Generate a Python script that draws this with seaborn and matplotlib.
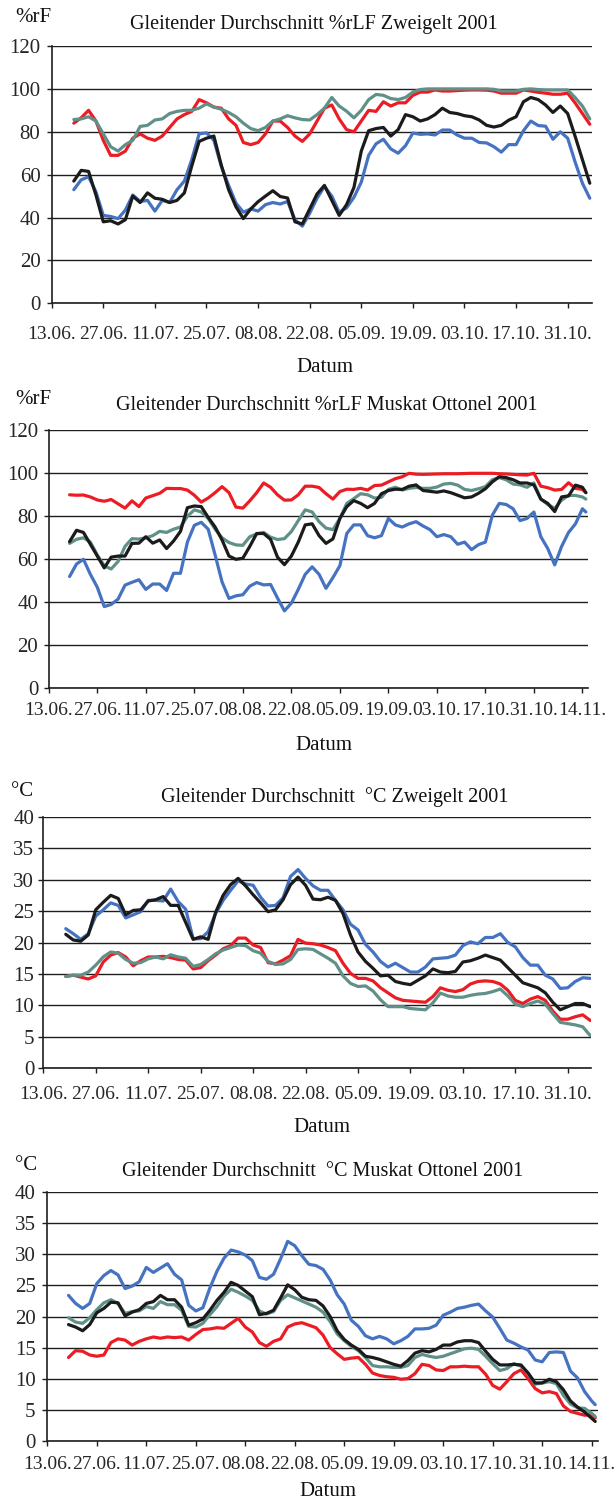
import matplotlib
matplotlib.use("Agg")
import matplotlib.pyplot as plt
import matplotlib.dates as mdates
from matplotlib.ticker import FixedLocator, FixedFormatter
import pandas as pd
import seaborn as sns

# ---------------- data ----------------
# moving-average dates (every second day)
dates_zw = pd.date_range("2001-06-19", "2001-11-06", freq="2D")   # Zweigelt panels
dates_mo = pd.date_range("2001-06-19", "2001-11-14", freq="2D").append(
    pd.DatetimeIndex(["2001-11-15"]))                               # Muskat Ottonel panels

ticks_zw = ["13.06.", "27.06.", "11.07.", "25.07.", "08.08.", "22.08.",
            "05.09.", "19.09.", "03.10.", "17.10.", "31.10."]
ticks_mo = ticks_zw + ["14.11."]

rh_ticks = [0, 20, 40, 60, 80, 100, 120]
t_ticks = [0, 5, 10, 15, 20, 25, 30, 35, 40]

# Panel 1: %rLF Zweigelt
rh_zw_rot = [84, 86.5, 90, 85, 76, 69, 69, 71, 77, 79, 77, 76, 78, 82, 86, 88, 89.5, 95,
             93.5, 91.5, 91, 86, 83, 75, 74, 75, 79, 85, 85, 82, 78, 75.5, 79, 85, 91, 92.5,
             86, 81, 80, 85, 90, 89.5, 94, 92, 93.5, 93.5, 97, 98.5, 98.5, 99.5, 99, 99,
             99.2, 99.4, 99.5, 99.5, 99.4, 99, 98, 98, 98, 99.5, 99, 98.4, 98, 97.5, 97.5,
             98, 93.5, 88.5, 83.5]
rh_zw_grau = [85.7, 86, 87, 85, 79, 73, 71, 74, 76, 82.5, 83, 85.5, 86, 88.5, 89.5, 90, 90,
              91, 93, 91.5, 90.5, 89, 87, 84, 81.5, 80.5, 82, 85, 86, 87.5, 86.5, 85.7, 85.5,
              88, 91, 96,
              92, 89.6, 86.5, 90, 95, 97.4, 97, 95.5, 95, 96, 98.5, 99.7,
              100, 100, 100, 100, 100, 100, 100, 100, 100,
              99.8, 99, 99, 99, 99.8, 100, 99.7, 99.5, 99.5, 99.5, 99.5, 96, 92, 86]
rh_zw_schwarz = [57, 62, 61.5, 50.5, 38, 38.5, 37, 39, 50, 47, 51.5, 49, 48.5, 47, 48, 51.5,
                 64, 75.5, 77, 78, 64.5, 53, 45, 39.5, 44, 47.4, 50, 52.5, 49.8, 49.1, 38, 37,
                 44, 51, 55, 48,
                 41, 46, 54, 71, 80.5, 81.5, 82, 78, 81, 88, 87, 85, 86, 88, 91, 89, 88.5,
                 87.5, 87, 85.5, 83, 82.2, 83, 85.4, 87, 94, 96, 95, 92.5, 89, 92, 88.5, 78,
                 67, 56]
rh_zw_blau = [53, 57.6, 59, 52, 41, 40.5, 39.5, 43.5, 50.5, 47.5, 48, 43, 48, 47, 53, 57, 67,
              79, 79.5, 76, 64, 55, 46.7, 42.5, 44, 43, 46, 47, 46.3, 47.5, 39, 36, 42, 49,
              54.5, 50,
              42.5, 44.5, 49.4, 56.5, 69, 74.4, 76.5, 72, 70, 73.5, 79.4, 78.8, 79, 78.5,
              80.8, 80.8, 78.5, 77, 77, 75, 74.8, 73, 70.5, 74, 74, 80.5, 85, 82.9, 82.6,
              76.5, 80, 77, 66, 56, 49]

# Panel 2: %rLF Muskat Ottonel
rh_mo_rot = [90, 89.8, 89.9, 89, 87.6, 87, 87.8, 85.8, 83.8, 87.2, 84.5, 88.5, 89.6, 90.7,
             93, 92.9, 92.9, 92.2, 89.8, 86.6, 88.5, 91, 93.8, 91, 84.3, 83.8, 87.2, 91,
             95.5, 93.5, 90, 87.5, 87.6, 90, 94, 94, 93.4, 90.5,
             88, 91.5, 92.6, 92.5, 93, 92.2, 94.3, 94.5, 96, 97.5, 98.4, 100, 99.6, 99.5,
             99.6, 99.7, 99.8, 99.8, 99.8, 99.9, 100, 100, 100, 100, 99.8, 99.7, 99.5, 99.3,
             99.2, 100, 94, 93.3, 92.2, 92.5, 95.6, 93, 92.5, 91]
rh_mo_grau = [67.4, 69.3, 70, 68, 62, 57, 55.5, 59, 66, 69.6, 69.4, 70, 71, 73, 72.5, 74, 75,
              80, 83, 82, 79, 74, 70, 67.8, 66.7, 66.5, 70.5, 71.8, 72.5, 70.3, 69.2, 69.6,
              72.9, 78, 83, 82, 77.5, 74.5,
              73.8, 79, 86, 88.2, 90.5, 90, 88.5, 88.8, 92.5, 93.5, 92.2, 93, 93.4, 93, 93,
              93.6, 95, 95.3, 94.5, 92.5, 92, 92.8, 93.8, 97, 98, 97, 95, 94.6, 93.5, 95.5,
              88, 85.5, 83.7, 87.5, 89.7, 89.7, 89, 88]
rh_mo_schwarz = [68.2, 73.5, 72.5, 67, 61.5, 56, 61, 61.5, 61.5, 67.4, 67.5, 70.5, 67.5, 69,
                 65, 68.5, 73, 84, 84.8, 84.5, 79.5, 75, 69, 61.5, 60, 60.5, 66, 72, 72, 69.3,
                 61, 57.5, 61.5, 68, 76, 76.5, 71, 67.4,
                 69.5, 79, 84.5, 87.3, 86, 84, 86, 90.5, 92, 92.6, 92.5, 94, 94.6, 92, 91.6,
                 91.2, 91.8, 91, 89.8, 88.6, 89, 90.7, 92.8, 96, 98.4, 98, 97, 95.5, 95.5,
                 94.6, 88, 86, 82.2, 89, 89.5, 94.5, 93.5, 91]
rh_mo_blau = [52, 57.8, 60, 53, 47, 38, 39, 41.5, 48, 49.3, 50.5, 46, 48.5, 48.5, 45.5, 53.5,
              53.5, 68, 75.8, 77.2, 74, 62, 49.5, 41.8, 43, 43.5, 47.5, 49.2, 48.1, 48.3, 42,
              36, 39.6, 46, 53, 56.5, 53, 46.5,
              51.5, 57, 72, 76, 76, 71, 70, 71, 79, 76, 75, 76.5, 77.5, 75.5, 73.8, 70.5,
              71.5, 70.5, 67, 68, 64.5, 66.8, 68, 80.5, 86, 85.5, 83.5, 78, 79, 82, 70.5,
              65, 57.4, 66, 72.5, 76.5, 83.5, 82]

# Panel 3: degC Zweigelt
t_zw_rot = [14.6, 14.8, 14.5, 14.2, 14.7, 16.9, 18, 18.4, 17.7, 16.3, 17.1, 17.7, 17.7, 17.8,
            17.6, 17.3, 17.2, 15.8, 16, 17.1, 18, 19, 19.5, 20.7, 20.7, 19.6, 19.2, 16.8,
            16.6, 17.2, 17.9, 20.5, 19.9, 19.8, 19.6, 19.2,
            18.7, 16.7, 15.1, 14.3, 14.3, 13.9, 12.8, 12, 11.2, 10.8, 10.7, 10.6, 10.5, 11.4,
            12.8, 12.4, 12.2, 12.5, 13.4, 13.8, 13.9, 13.8, 13.4, 12.4, 10.8, 10.3, 11,
            11.4, 10.8, 9.1, 7.8, 7.8, 8.2, 8.5, 7.6]
t_zw_grau = [14.6, 14.8, 14.8, 15.3, 16.4, 17.7, 18.5, 18.3, 17.3, 16.7, 16.8, 17.4, 17.7,
             17.4, 18.05, 17.7, 17.5, 16.2, 16.5, 17.3, 18.2, 18.8, 19.2, 19.6, 19.5, 18.7,
             18.3, 17, 16.5, 16.6, 17.3, 18.9, 19, 18.9, 18.2, 17.5,
             16.7, 14.7, 13.5, 13, 13.1, 12.3, 10.9, 9.8, 9.8, 9.8, 9.5, 9.4, 9.3, 10.4,
             11.95, 11.5, 11.3, 11.3, 11.6, 11.8, 11.9, 12.2, 12.6, 11.5, 10.2, 9.8, 10.3,
             10.7, 10.2, 8.7, 7.3, 7.1, 6.9, 6.6, 5.2]
t_zw_schwarz = [21.3, 20.4, 20.2, 21.2, 25.2, 26.4, 27.5, 27, 24.4, 25.1, 25.2, 26.6, 26.8,
                27.3, 25.9, 25.9, 23.2, 20.5, 20.9, 20.5, 24.8, 27.5, 29.2, 30.2, 29, 27.6,
                26.3, 24.9, 25.2, 26.8, 29.2, 30.4, 29.1, 26.9, 26.8, 27.2,
                26.7, 24.6, 21.2, 18.5, 17, 15.9, 14.7, 14.8, 13.8, 13.5, 13.3, 14, 14.7,
                15.8, 15.3, 15.2, 15.4, 16.9, 17.1, 17.5, 18, 17.6, 17.2, 16, 14.8, 13.6,
                13.2, 12.8, 12, 10.5, 9.3, 9.8, 10.3, 10.3, 9.8]
t_zw_blau = [22.2, 21.4, 20.5, 21.4, 24.2, 25.2, 26.3, 25.9, 23.9, 24.4, 24.9, 26.7, 26.7,
             26.6, 28.5, 26.5, 25.3, 20.6, 20.6, 21.7, 24.6, 26.7, 28.3, 29.8, 29.3, 29.1,
             27.2, 25.8, 25.9, 27.1, 30.5, 31.6, 30.2, 29, 28.3, 28.3,
             26.7, 25.2, 22.9, 22, 19.7, 18.5, 17, 16.1, 16.7, 16, 15.3, 15.3, 16.1, 17.4,
             17.5, 17.6, 18, 19.5, 20.1, 19.8, 20.8, 20.8, 21.4, 20, 19.3, 17.6, 16.4, 16.4,
             14.8, 14.2, 12.7, 12.8, 13.8, 14.4, 14.3]

# Panel 4: degC Muskat Ottonel
t_mo_rot = [13.4, 14.5, 14.4, 13.8, 13.6, 13.8, 15.8, 16.4, 16.2, 15.4, 16, 16.4, 16.7, 16.5,
            16.7, 16.6, 16.7, 16.2, 17.1, 17.9, 18, 18.2, 18.1, 18.9, 19.7, 18.3, 17.5, 15.8,
            15.2, 16, 16.4, 18.3, 18.8, 19, 18.6, 18.2, 17, 15,
            14, 13.1, 13.3, 13.4, 12.3, 10.9, 10.5, 10.3, 10.2, 9.9, 10, 10.8, 12.3, 12.1,
            11.4, 11.3, 11.9, 11.9, 12, 11.9, 11.9, 10.7, 8.9, 8.3, 9.5, 10.8, 11.4, 10, 8.4,
            7.7, 7.9, 7.6, 5.6, 4.7, 4.4, 4.1, 4.2, 3.7]
t_mo_grau = [19.8, 19.1, 18.9, 19.8, 21.1, 22.2, 22.7, 22.1, 20.5, 20.8, 20.9, 21.6, 21.3,
             22.4, 21.9, 21.9, 21, 18.4, 18.3, 18.9, 20.3, 21.6, 23.3, 24.4, 23.9, 23.3, 22.6,
             20.9, 20.4, 20.8, 22.6, 23.5, 23, 22.5, 22, 21.5, 20.7, 19.2,
             17.2, 16.1, 15.2, 14.5, 13.4, 12.1, 11.9, 11.9, 11.8, 11.8, 12.1, 13.4, 13.9,
             13.6, 13.4, 13.6, 14, 14.4, 14.8, 14.9, 14.7, 13.6, 12.4, 11.3, 11.6, 12.4, 12,
             10.9, 9.1, 9.3, 9.5, 9.2, 7.3, 5.9, 5.3, 5.2, 4.4, 3.9]
t_mo_schwarz = [18.7, 18.3, 17.7, 18.7, 20.6, 21.3, 22.3, 22.2, 20.1, 20.7, 21.1, 22.1, 22.4,
                23.4, 22.7, 22.7, 21.5, 18.6, 19, 19.6, 21, 22.6, 23.9, 25.5, 25, 24.1, 23.2,
                20.3, 20.5, 21, 23, 25.1, 24.3, 23.1, 22.7, 22.6, 21.7, 20,
                17.7, 16.3, 15.4, 14.7, 13.6, 13.4, 13.1, 12.7, 12.3, 12, 12.9, 14.1, 14.5,
                14.3, 14.7, 15.4, 15.4, 15.9, 16.1, 16.1, 15.8, 14.4, 13.1, 12.2, 12.2, 12.3,
                12.2, 10.9, 9.3, 9.3, 9.9, 9.5, 8.2, 6.4, 5.4, 4.6, 3.6, 3.1]
t_mo_blau = [23.4, 22.1, 21.3, 22.1, 25.3, 26.6, 27.4, 26.7, 24.5, 24.9, 25.6, 27.9, 27.1,
             27.8, 28.5, 26.8, 25.9, 21.8, 20.9, 21.4, 24.6, 27.3, 29.4, 30.7, 30.4, 29.9, 29,
             26.3, 26, 26.8, 29.3, 32.1, 31.4, 29.8, 28.4, 28.2, 27.6, 25.9,
             23.5, 22, 19.4, 18.4, 16.9, 16.4, 16.8, 16.4, 15.6, 16.1, 16.8, 18, 18, 18.1,
             18.6, 20.2, 20.7, 21.3, 21.5, 21.8, 22, 20.9, 19.9, 18.1, 16.2, 15.7, 15.1, 14.6,
             13, 12.7, 14.2, 14.3, 14.2, 11.2, 10.1, 7.9, 6.4, 5.8]

titles = ["Gleitender Durchschnitt %rLF Zweigelt 2001",
          "Gleitender Durchschnitt %rLF Muskat Ottonel 2001",
          "Gleitender Durchschnitt  \u00b0C Zweigelt 2001",
          "Gleitender Durchschnitt  \u00b0C Muskat Ottonel 2001"]
units = ["%rF", "%rF", "\u00b0C", "\u00b0C"]

# ---------------- style ----------------
sns.set_style("white")
plt.rcParams["font.family"] = ["Liberation Serif", "DejaVu Serif"]
plt.rcParams["text.color"] = "#111111"

COLORS = {"rot": "#ec1c24", "grau": "#5f9189", "blau": "#4672c2", "schwarz": "#1b1b1b"}
ORDER = ["rot", "grau", "blau", "schwarz"]

W, H = 615, 1503
fig = plt.figure(figsize=(W / 100, H / 100), dpi=100)

panels = [
    dict(dates=dates_zw, series={"rot": rh_zw_rot, "grau": rh_zw_grau, "schwarz": rh_zw_schwarz, "blau": rh_zw_blau},
         ticks=ticks_zw, yt=rh_ticks, box=(51.7, 592, 46, 303.3), xend=146.6, xpad=13.0, ypad=4.5,
         unit=(15, 17), title=(314, 24), datum=(325, 368)),
    dict(dates=dates_mo, series={"rot": rh_mo_rot, "grau": rh_mo_grau, "schwarz": rh_mo_schwarz, "blau": rh_mo_blau},
         ticks=ticks_mo, yt=rh_ticks, box=(48.8, 588.3, 430.3, 688.3), xend=155.7, xpad=6.3, ypad=4.0,
         unit=(15, 400), title=(327, 405), datum=(324, 746)),
    dict(dates=dates_zw, series={"rot": t_zw_rot, "grau": t_zw_grau, "schwarz": t_zw_schwarz, "blau": t_zw_blau},
         ticks=ticks_zw, yt=t_ticks, box=(43.3, 591, 816.7, 1068.3), xend=146.2, xpad=9.0, ypad=3.0,
         unit=(11, 791), title=(335, 797), datum=(322, 1127)),
    dict(dates=dates_mo, series={"rot": t_mo_rot, "grau": t_mo_grau, "schwarz": t_mo_schwarz, "blau": t_mo_blau},
         ticks=ticks_mo, yt=t_ticks, box=(47.3, 597.7, 1192.3, 1440.7), xend=155.7, xpad=7.4, ypad=4.8,
         unit=(15, 1166), title=(323, 1172), datum=(328, 1492)),
]

t0 = pd.Timestamp("2001-06-13")
for i, p in enumerate(panels):
    l, r, t, b = p["box"]
    ax = fig.add_axes([l / W, 1 - b / H, (r - l) / W, (b - t) / H])
    df = pd.DataFrame({"Datum": p["dates"], **p["series"]})
    for key in ORDER:
        sns.lineplot(data=df, x="Datum", y=key, color=COLORS[key], linewidth=2.3,
                     ax=ax, legend=False, zorder=3)
    tick_dates = [pd.to_datetime(s + "2001", format="%d.%m.%Y") for s in p["ticks"]]
    ax.set_xlim(t0, t0 + pd.Timedelta(days=p["xend"]))
    ax.xaxis.set_major_locator(FixedLocator(mdates.date2num(tick_dates)))
    ax.xaxis.set_major_formatter(FixedFormatter(p["ticks"]))
    ax.set_ylim(0, p["yt"][-1])
    ax.set_yticks(p["yt"])
    ax.set_yticklabels([str(v) for v in p["yt"]])
    ax.yaxis.grid(True, color="#1e1e1e", linewidth=1.0)
    ax.xaxis.grid(False)
    ax.set_axisbelow(True)
    for s in ["top", "right"]:
        ax.spines[s].set_visible(False)
    for s in ["left", "bottom"]:
        ax.spines[s].set_visible(True)
        ax.spines[s].set_color("#1e1e1e")
        ax.spines[s].set_linewidth(1.2)
    ax.tick_params(axis="x", direction="out", length=3.6, width=1.0, color="#1e1e1e",
                   pad=p["xpad"], labelsize=14, bottom=True)
    ax.tick_params(axis="y", direction="out", length=3.6, width=1.0, color="#1e1e1e",
                   pad=p["ypad"], labelsize=15, left=True)
    ax.set_xlabel("")
    ax.set_ylabel("")
    ax.set_facecolor("white")

    ux, uy = p["unit"]
    fig.text(ux / W, 1 - uy / H, units[i], ha="left", va="center", fontsize=15)
    tx, ty = p["title"]
    fig.text(tx / W, 1 - ty / H, titles[i], ha="center", va="center", fontsize=14.5)
    dx, dy = p["datum"]
    fig.text(dx / W, 1 - dy / H, "Datum", ha="center", va="center", fontsize=15)

fig.savefig("out.png", dpi=100, facecolor="white")
